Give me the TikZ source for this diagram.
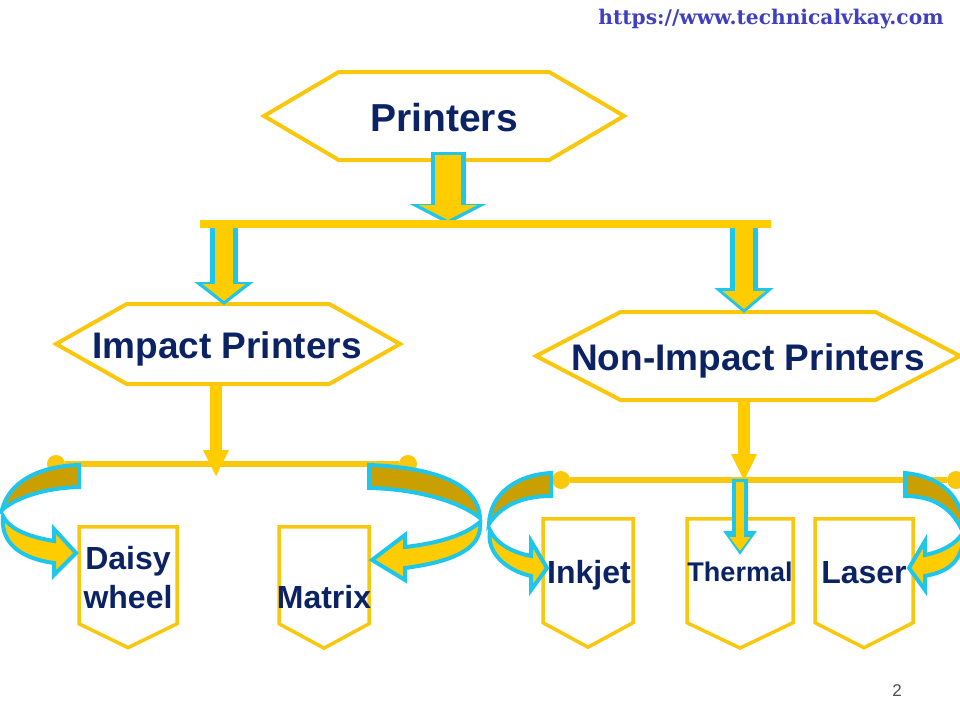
\documentclass[tikz,border=0pt]{standalone}
\usepackage{fontspec}
\setmainfont{Liberation Sans}
\newfontfamily\urlfont{DejaVu Serif}
\usetikzlibrary{shapes.symbols,arrows.meta}
\definecolor{boxyellow}{HTML}{F9C80E}
\definecolor{fillyellow}{HTML}{FFCC00}
\definecolor{swirldark}{HTML}{C9A000}
\definecolor{rimcyan}{HTML}{1FC6EC}
\definecolor{labelnavy}{HTML}{0B2265}
\definecolor{urlblue}{HTML}{3F3FBF}
\newcommand{\blockarrow}[8]{%
	\draw[rimcyan,line width=#3pt,-{Triangle[length=#5pt,width=#4pt]}] (#1) -- (#2);
	\draw[fillyellow,line width=#6pt,-{Triangle[length=#8pt,width=#7pt]}] ([yshift=-3pt]#1) -- ([yshift=4pt]#2);
}
\begin{document}
\begin{tikzpicture}
		[x=1pt,y=-1pt,
		hexbox/.style={signal,signal to=east and west,draw=boxyellow,line width=4pt,fill=white,
inner sep=0pt},
		pentbox/.style={signal,signal to=south,signal from=nowhere,draw=boxyellow,line width=3.5pt,fill=white,
inner sep=0pt,anchor=north},
		labelstyle/.style={text=labelnavy,inner sep=0pt,align=center,font=\bfseries\fontsize{32}{39}\selectfont},
		headstyle/.style={text=labelnavy,inner sep=0pt,font=\bfseries\fontsize{37}{40}\selectfont},
		dot/.style={circle,fill=boxyellow,inner sep=0pt,minimum size=18pt},
		thinbar/.style={-,boxyellow,line width=6pt},
		stem/.style={-{Triangle[length=27pt,width=24pt]},fillyellow,line width=12pt},
		swirl/.style={draw=rimcyan,line width=4pt,line join=miter}]
		\useasboundingbox (0,0) rectangle (960,720);
		\clip (0,0) rectangle (960,720);
		% printers row
		\node at (444,116) (printers) [hexbox,minimum width=360pt,minimum height=88pt,signal pointer angle=61] {};
		\node at (228,344) (impact) [hexbox,minimum width=344pt,minimum height=80pt,signal pointer angle=59] {};
		\node at (748,356) (nonimpact) [hexbox,minimum width=424pt,minimum height=88pt,signal pointer angle=55] {};
		% the five boxes
		\node at (128,525) (daisy) [pentbox,minimum width=98pt,minimum height=97pt,signal pointer angle=128] {};
		\node at (324,525) (matrix) [pentbox,minimum width=90pt,minimum height=97pt,signal pointer angle=123] {};
		\node at (588,517) (inkjet) [pentbox,minimum width=90pt,minimum height=104pt,signal pointer angle=123] {};
		\node at (740,517) (thermal) [pentbox,minimum width=106pt,minimum height=104pt,signal pointer angle=129] {};
		\node at (864,517) (laser) [pentbox,minimum width=98pt,minimum height=104pt,signal pointer angle=126] {};
		% block arrows off the wide bar
		\coordinate (printerstail) at (448,152);
		\coordinate (bartip) at (448,224);
		\coordinate (lefttail) at (224,224);
		\coordinate (lefttip) at (224,305);
		\coordinate (righttail) at (744,224);
		\coordinate (righttip) at (744,313);
		\coordinate (thermaltail) at (740,479);
		\coordinate (thermaltip) at (740,555);
		\blockarrow{printerstail}{bartip}{35}{76}{20}{26}{58}{15}
		\blockarrow{lefttail}{lefttip}{28}{58}{23}{18}{42}{17}
		\blockarrow{righttail}{righttip}{28}{58}{25}{18}{42}{18}
		\coordinate (barleft) at (200,224);
		\coordinate (barright) at (771,224);
		\draw[fillyellow,line width=8pt] (barleft) -- (barright);
		% left branch
		\node at (56,464) (leftdot) [dot] {};
		\node at (408,464) (rightdot) [dot] {}
			edge [thinbar] (leftdot);
		\coordinate (impactstem) at (216,477);
		\draw[stem] (impact.south -| impactstem) -- (impactstem);
		% right branch
		\node at (561,480) (inkdot) [dot] {};
		\node at (956,480) (laserdot) [dot] {}
			edge [thinbar] (inkdot);
		\coordinate (nonstem) at (744,481);
		\draw[stem] (nonimpact.south -| nonstem) -- (nonstem);
		\blockarrow{thermaltail}{thermaltip}{16}{32}{24}{8}{20}{14}
		% curved arrows
		\draw[swirl,fill=swirldark] (79,465) .. controls (45,466) and (10,478) .. (2,510) .. controls (14,499) and (42,488) .. (79,487) -- cycle;
		\draw[swirl,fill=fillyellow] (3,516) .. controls (10,530) and (30,537) .. (54,541) -- (54,529) -- (76,553) -- (54,575) -- (54,563) .. controls (25,559) and (0,546) .. (3,516) -- cycle;
		\draw[swirl,fill=swirldark] (369,465) .. controls (425,467) and (478,480) .. (480,518) .. controls (462,503) and (420,489) .. (369,488) -- cycle;
		\draw[swirl,fill=fillyellow] (480,522) .. controls (465,535) and (440,543) .. (405,547) -- (405,535) -- (372,560) -- (405,580) -- (405,568) .. controls (450,562) and (483,550) .. (480,522) -- cycle;
		\draw[swirl,fill=swirldark] (551,473) .. controls (515,475) and (490,495) .. (489,524) .. controls (500,507) and (520,496) .. (551,496) -- cycle;
		\draw[swirl,fill=fillyellow] (490,530) .. controls (495,542) and (510,552) .. (531,556) -- (531,541) -- (547,568) -- (531,590) -- (531,576) .. controls (505,570) and (486,552) .. (490,530) -- cycle;
		\draw[swirl,fill=swirldark] (905,473) .. controls (935,476) and (955,490) .. (962,515) -- (962,530) .. controls (950,505) and (930,496) .. (905,496) -- cycle;
		\draw[swirl,fill=fillyellow] (962,534) .. controls (955,545) and (940,552) .. (925,555) -- (925,541) -- (909,568) -- (925,590) -- (925,576) .. controls (945,572) and (962,565) .. (964,534) -- cycle;
		% texts over everything
		\node at (444,118) (printerstext) [headstyle,font=\bfseries\fontsize{39}{42}\selectfont] {Printers};
		\node at (227,349) (impacttext) [headstyle] {Impact Printers};
		\node at (748,361) (nonimpacttext) [headstyle] {Non-Impact Printers};
		\node at (128,578) (daisytext) [labelstyle] {Daisy\\wheel};
		\node at (324,597) (matrixtext) [labelstyle] {Matrix};
		\node at (589,575) (inkjettext) [labelstyle] {Inkjet};
		\node at (740,572) (thermaltext) [labelstyle,font=\bfseries\fontsize{27}{30}\selectfont] {Thermal};
		\node at (864,573) (lasertext) [labelstyle] {Laser};
		\node at (771,19) (urltext) [text=urlblue,inner sep=0pt,font=\urlfont\bfseries\fontsize{20.2}{23}\selectfont] {https://www.technicalvkay.com};
		\node at (897,691) (pagenum) [text=black!70,inner sep=0pt,font=\fontsize{17}{20}\selectfont] {2};
	\end{tikzpicture}
\end{document}
